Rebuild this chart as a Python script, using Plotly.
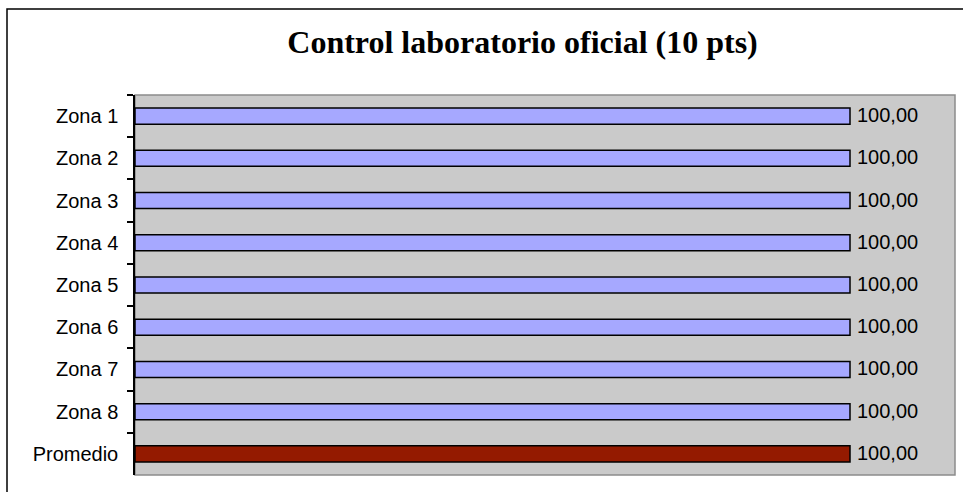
import plotly.graph_objects as go

categories = ["Zona 1", "Zona 2", "Zona 3", "Zona 4", "Zona 5", "Zona 6", "Zona 7", "Zona 8", "Promedio"]
values = [100, 100, 100, 100, 100, 100, 100, 100, 100]
value_labels = ["100,00"] * 9
bar_colors = ["#A6A8FF"] * 8 + ["#941A00"]

W, H = 963, 492
L, R, T, B = 135, 8, 95, 17
pw, ph = W - L - R, H - T - B

fig = go.Figure()
fig.add_trace(go.Bar(
    y=categories, x=values, orientation="h",
    marker=dict(color=bar_colors, line=dict(color="#000000", width=1.5)),
    width=0.38, hoverinfo="skip",
))

for c, v, t in zip(categories, values, value_labels):
    fig.add_annotation(x=v, y=c, xref="x", yref="y", text=t, showarrow=False,
                       xanchor="left", yanchor="middle", xshift=5, yshift=1,
                       font=dict(family="Liberation Sans, Arial", size=20, color="#000000"))

# outer chart frame (extends beyond the visible window on right and bottom)
fig.add_shape(type="rect", xref="paper", yref="paper",
              x0=(7 - L) / pw, x1=(W + 20 - L) / pw,
              y0=(H - B - (H + 20)) / ph, y1=(H - B - 9) / ph,
              line=dict(color="#000000", width=1.5), fillcolor="rgba(0,0,0,0)", layer="below")
# plot area border
fig.add_shape(type="rect", xref="paper", yref="paper", x0=0, x1=1, y0=0, y1=1,
              line=dict(color="#8C8C8C", width=1.5), fillcolor="rgba(0,0,0,0)", layer="below")

fig.update_layout(
    width=W, height=H,
    margin=dict(l=L, r=R, t=T, b=B, pad=0),
    paper_bgcolor="#FFFFFF", plot_bgcolor="#CACACA",
    showlegend=False, bargap=0.62,
    title=dict(text="<b>Control laboratorio oficial (10 pts)</b>",
               font=dict(family="Liberation Serif, Times New Roman", size=32, color="#000000"),
               x=(522.5 - L) / pw, xref="paper", xanchor="center",
               y=1 - 42 / H, yref="container", yanchor="middle"),
    xaxis=dict(range=[0, 100 * pw / 715], showgrid=False, zeroline=False,
               showticklabels=False, ticks="", showline=False, fixedrange=True),
    yaxis=dict(autorange="reversed", type="category", showgrid=False, zeroline=False,
               showline=True, linecolor="#000000", linewidth=1.5,
               ticks="outside", tickson="boundaries", ticklen=6, tickcolor="#000000", tickwidth=1.5,
               tickfont=dict(family="Liberation Sans, Arial", size=20, color="#000000"),
               ticklabelstandoff=11, fixedrange=True),
)

fig.write_html("out.html", config={"displayModeBar": False},
               post_script="document.body.style.margin='0';")
